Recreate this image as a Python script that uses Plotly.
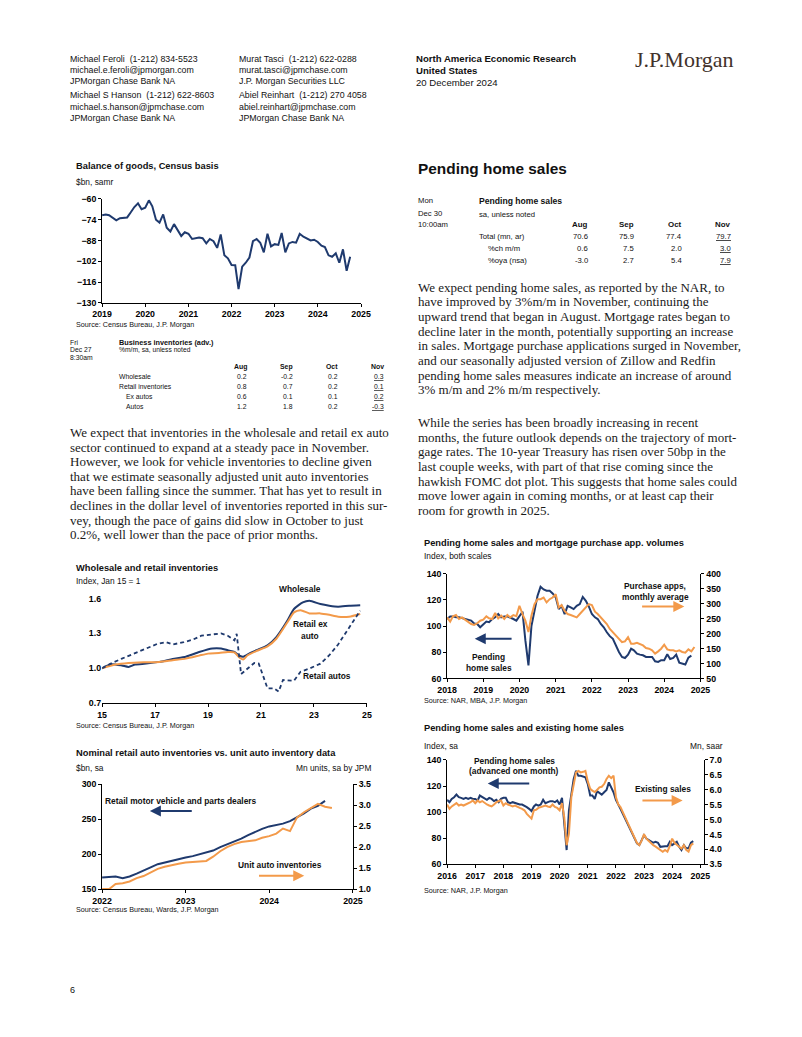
import plotly.graph_objects as go
import pandas as pd

PAGE_W, PAGE_H = 802, 1037
OFF = 8  # browser default body margin
W, H = PAGE_W - 2 * OFF, PAGE_H - 2 * OFF
NAVY = "#1f3a6e"
ORANGE = "#f39a4a"
FONT = "Liberation Sans, Arial, sans-serif"
SERIF = "Liberation Serif, Times New Roman, serif"

# ---------------- data ----------------
# Chart 1: Balance of goods, Census basis ($bn), Jan 2019 - Oct 2024
goods_dates = pd.date_range("2019-01-01", periods=70, freq="MS")
goods_balance = [
    -71, -70.5, -71, -72.5, -74.5, -73, -72.5, -72.5, -69, -65.5, -63, -67,
    -66, -61, -65, -74, -76, -70.5, -79.5, -82, -77, -80.5, -85, -82.5,
    -83.5, -87, -86.5, -86, -86.5, -90, -87, -88.5, -93, -84, -98, -100,
    -104.5, -104.7, -120.7, -105.6, -103, -99.5, -88.5, -87, -89.5, -96, -83.5, -92,
    -90.5, -91, -83, -96, -90, -89, -89.5, -83.5, -85.5, -87, -88, -87.5,
    -89, -91.5, -92.5, -98, -99, -96.7, -103, -94, -108.4, -99,
]

# Chart 2: Wholesale and retail inventories (Index, Jan 15 = 1)
wholesale_dates = ["2015-01", "2015-05", "2015-10", "2016-01", "2016-04", "2016-09", "2017-03",
                   "2017-09", "2018-03", "2018-09", "2019-03", "2019-07", "2019-10", "2020-01",
                   "2020-03", "2020-05", "2020-08", "2020-11", "2021-04", "2021-08", "2022-01",
                   "2022-04", "2022-08", "2022-11", "2023-04", "2023-08", "2023-12", "2024-05",
                   "2024-10"]
wholesale = [1.00, 1.035, 1.024, 1.012, 1.032, 1.04, 1.055, 1.08, 1.10, 1.14, 1.17, 1.17, 1.155,
             1.14, 1.11, 1.10, 1.13, 1.155, 1.197, 1.268, 1.41, 1.51, 1.566, 1.58, 1.552, 1.538,
             1.53, 1.538, 1.543]
retail_ex_dates = ["2015-01", "2015-07", "2016-01", "2016-08", "2017-03", "2017-09", "2018-03",
                   "2018-09", "2019-01", "2019-06", "2019-10", "2020-01", "2020-03", "2020-05",
                   "2020-07", "2020-11", "2021-04", "2021-08", "2022-01", "2022-04", "2022-07",
                   "2022-11", "2023-04", "2023-08", "2023-12", "2024-05", "2024-10"]
retail_ex_auto = [1.0, 1.032, 1.046, 1.052, 1.055, 1.07, 1.083, 1.109, 1.126, 1.131, 1.14, 1.137,
                  1.097, 1.075, 1.112, 1.149, 1.188, 1.254, 1.396, 1.48, 1.50, 1.472, 1.472, 1.46,
                  1.444, 1.444, 1.467]
retail_auto_dates = ["2015-01", "2015-05", "2015-10", "2016-04", "2016-09", "2017-02", "2017-06",
                     "2017-09", "2018-02", "2018-06", "2018-10", "2019-03", "2019-07", "2019-10",
                     "2020-01", "2020-02", "2020-03", "2020-04", "2020-07", "2020-10", "2020-12",
                     "2021-03", "2021-04", "2021-07", "2021-09", "2021-11", "2022-02", "2022-04",
                     "2022-07", "2022-11", "2023-04", "2023-08", "2023-12", "2024-03", "2024-05",
                     "2024-08", "2024-10"]
retail_autos = [1.0, 1.04, 1.083, 1.13, 1.168, 1.21, 1.225, 1.205, 1.225, 1.245, 1.28, 1.288, 1.30,
                1.28, 1.24, 1.296, 1.097, 0.95, 0.998, 1.046, 1.04, 0.884, 0.828, 0.828, 0.80,
                0.899, 0.899, 0.893, 0.97, 0.998, 1.04, 1.112, 1.205, 1.296, 1.353, 1.438, 1.495]

# Chart 3: Nominal retail auto inventories ($bn) vs unit auto inventories (mn units)
dealer_dates = pd.date_range("2022-01-01", periods=33, freq="MS")
dealer_inv = [166.5, 167, 168, 165.5, 168, 172, 177, 181, 185.5, 188, 189.5, 192,
              195, 197, 199.5, 203, 205, 210, 214, 217, 222, 227, 232, 236,
              239.5, 241.5, 243.5, 247, 252, 258, 265, 269, 276]
unit_dates = pd.date_range("2022-01-01", periods=34, freq="MS")
unit_inv = [1.0, 1.0, 1.12, 1.14, 1.18, 1.26, 1.31, 1.40, 1.48, 1.53, 1.57, 1.60,
            1.63, 1.64, 1.65, 1.67, 1.77, 1.90, 2.00, 2.07, 2.12, 2.14, 2.16, 2.22,
            2.26, 2.32, 2.44, 2.38, 2.70, 2.83, 2.93, 3.03, 2.96, 2.93]

# Chart 4: Pending home sales (index) and purchase apps (index)
phs_dates = pd.date_range("2018-01-01", periods=82, freq="MS")
pending_sales = [
    105.4, 107.4, 107.4, 106.7, 106.7, 106, 105.4, 104.9, 104.2, 102, 101.6, 99.1,
    101.6, 103.4, 103, 105.4, 106.7, 109.2, 106.7, 107.4, 107.4, 106.7, 105.4, 104.2,
    108, 111, 89, 70, 100, 113, 123, 130, 128, 127, 127, 125,
    122, 113, 115.5, 109.2, 115.5, 114.3, 113, 115.5, 116.8, 122.3, 119.3, 115,
    109.2, 106.7, 105.4, 101.6, 99.1, 95.3, 92.3, 90.3, 84.7, 80.2, 76.4, 75.6,
    78.2, 82.7, 81.5, 78.9, 78.2, 77.7, 76.4, 76.4, 76.4, 73.1, 72.6, 73.9,
    73.9, 78.5, 74.8, 75.6, 78.2, 72, 71, 70.6, 75.9, 77.4,
]
apps_dates = pd.date_range("2018-01-01", periods=83, freq="MS")
purchase_apps = [
    254, 240, 257.6, 262, 248.7, 254, 246.5, 240, 232, 229, 234.4, 243,
    246.5, 257.6, 251, 248.7, 268.6, 251, 260, 248.7, 262, 254, 262, 258,
    293, 265, 243, 205, 260, 298, 315, 315, 320.5, 304, 315, 320.5,
    331.5, 287.4, 295, 276, 265.3, 262, 257.6, 254, 265.3, 276.3, 287.4, 298.4,
    295, 273, 265.3, 254, 243, 232, 215.6, 204.6, 193.6, 182.5, 171.5, 173.7,
    188, 166, 166, 169.3, 166, 160.4, 151.6, 149.4, 143.9, 133, 140.5, 149.4,
    162.6, 147.2, 144, 144, 140.5, 144, 138.5, 136.3, 147.2, 140.5, 155,
]

# Chart 5: Pending home sales (advanced one month, index) and existing sales (mn, saar)
hs_dates = pd.date_range("2016-01-01", periods=106, freq="MS")
pending_adv = [
    109.4, 107.6, 110.1, 111.4, 113.4, 111.4, 110.9, 110.1, 110.9, 110.1, 110.9, 110.1,
    110.1, 108.9, 112.7, 111.4, 110.1, 109.4, 110.9, 110.1, 108.4, 109.4, 107.6, 110.1,
    110.9, 110.9, 107.6, 106.8, 107.6, 106.8, 106.3, 105.8, 105.8, 105, 103.8, 102.5,
    100.8, 104.3, 105.8, 105, 105.8, 109.4, 106.8, 107.6, 108.4, 108.4, 107.6, 108.9,
    105.8, 110.9, 93.7, 70.9, 101.3, 115.2, 125.3, 131.6, 127.8, 127.8, 127.1, 126.6,
    121.5, 112.7, 112.7, 110.1, 116, 114.4, 113.4, 115.2, 117, 122.8, 119.5, 115.2,
    109.4, 106.3, 102.5, 98.7, 95, 91.2, 88.6, 84.8, 79.7, 76, 74.7, 78.5,
    82.3, 79.7, 78.5, 77.2, 76.5, 77.2, 76.5, 73.4, 73.9, 73.9, 73.9, 77.2,
    74.7, 75.9, 77.2, 73.4, 70.9, 74.7, 72.2, 72.2, 76.5, 77.7,
]
existing_sales = [
    5.505, 5.36, 5.44, 5.505, 5.55, 5.47, 5.505, 5.47, 5.505, 5.55, 5.58, 5.64,
    5.55, 5.64, 5.58, 5.62, 5.55, 5.505, 5.47, 5.44, 5.505, 5.58, 5.62, 5.64,
    5.47, 5.55, 5.505, 5.47, 5.44, 5.47, 5.42, 5.39, 5.36, 5.31, 5.19, 5.11,
    5.03, 5.31, 5.33, 5.39, 5.42, 5.44, 5.47, 5.44, 5.42, 5.505, 5.42, 5.39,
    5.31, 5.55, 5.08, 4.14, 4.53, 5.75, 6.19, 6.58, 6.63, 6.58, 6.60, 6.63,
    6.28, 6.03, 5.97, 5.92, 5.99, 6.08, 6.10, 6.19, 6.36, 6.47, 6.39, 6.47,
    5.75, 5.505, 5.42, 5.25, 5.08, 4.88, 4.75, 4.59, 4.40, 4.22, 4.14, 4.29,
    4.51, 4.36, 4.29, 4.20, 4.14, 4.09, 4.03, 3.98, 3.92, 3.98, 3.92, 4.11,
    4.36, 4.22, 4.14, 4.09, 4.03, 4.14, 3.98, 3.92, 4.14, 4.20,
]

# Tables
table_months = ["Aug", "Sep", "Oct", "Nov"]
biz_rows = ["Wholesale", "Retail inventories", "Ex autos", "Autos"]
biz_vals = [["0.2", "-0.2", "0.2", "0.3"],
            ["0.8", "0.7", "0.2", "0.1"],
            ["0.6", "0.1", "0.1", "0.2"],
            ["1.2", "1.8", "0.2", "-0.3"]]
phs_rows = ["Total (mn, ar)", "%ch m/m", "%oya (nsa)"]
phs_vals = [["70.6", "75.9", "77.4", "79.7"],
            ["0.6", "7.5", "2.0", "3.0"],
            ["-3.0", "2.7", "5.4", "7.9"]]

header_col1 = ["Michael Feroli  (1-212) 834-5523", "michael.e.feroli@jpmorgan.com", "JPMorgan Chase Bank NA",
               "Michael S Hanson  (1-212) 622-8603", "michael.s.hanson@jpmchase.com", "JPMorgan Chase Bank NA"]
header_col2 = ["Murat Tasci  (1-212) 622-0288", "murat.tasci@jpmchase.com", "J.P. Morgan Securities LLC",
               "Abiel Reinhart  (1-212) 270 4058", "abiel.reinhart@jpmchase.com", "JPMorgan Chase Bank NA"]

para_left = [
    "We expect that inventories in the wholesale and retail ex auto",
    "sector continued to expand at a steady pace in November.",
    "However, we look for vehicle inventories to decline given",
    "that we estimate seasonally adjusted unit auto inventories",
    "have been falling since the summer. That has yet to result in",
    "declines in the dollar level of inventories reported in this sur-",
    "vey, though the pace of gains did slow in October to just",
    "0.2%, well lower than the pace of prior months.",
]
para_right1 = [
    "We expect pending home sales, as reported by the NAR, to",
    "have improved by 3%m/m in November, continuing the",
    "upward trend that began in August. Mortgage rates began to",
    "decline later in the month, potentially supporting an increase",
    "in sales. Mortgage purchase applications surged in November,",
    "and our seasonally adjusted version of Zillow and Redfin",
    "pending home sales measures indicate an increase of around",
    "3% m/m and 2% m/m respectively.",
]
para_right2 = [
    "While the series has been broadly increasing in recent",
    "months, the future outlook depends on the trajectory of mort-",
    "gage rates. The 10-year Treasury has risen over 50bp in the",
    "last couple weeks, with part of that rise coming since the",
    "hawkish FOMC dot plot. This suggests that home sales could",
    "move lower again in coming months, or at least cap their",
    "room for growth in 2025.",
]

# ---------------- helpers ----------------
def fx(px):
    return (px - OFF) / W


def fy(py):
    return 1 - (py - OFF) / H


annotations = []


def txt(x, y, s, size, bold=False, anchor="left", color="#111", family=FONT):
    annotations.append(dict(x=fx(x), y=fy(y), xref="paper", yref="paper", text=s, showarrow=False,
                            xanchor=anchor, yanchor="middle", borderpad=0, borderwidth=0,
                            font=dict(size=size, family=family, color=color,
                                      weight="bold" if bold else "normal")))


def arrow(hx, hy, tx, ty, color):
    annotations.append(dict(x=fx(hx), y=fy(hy), xref="paper", yref="paper", text="",
                            showarrow=True, ax=tx - hx, ay=ty - hy, axref="pixel", ayref="pixel",
                            arrowhead=2, arrowsize=1.1, arrowwidth=2, arrowcolor=color))


TICKFONT = dict(size=8.8, family=FONT, color="black", weight="bold")
TITLE = 9.3
SUB = 8.4
SRC = 7.2
LBL = 8.4


def xaxis(x0, x1, anchor, rng, dtick="M12", fmt="%Y", tick0=None):
    d = dict(domain=[fx(x0), fx(x1)], anchor=anchor, type="date", range=rng, dtick=dtick,
             tickformat=fmt, showline=True, linecolor="black", linewidth=1, ticks="outside",
             ticklen=3, tickcolor="black", tickfont=TICKFONT, showgrid=False, zeroline=False)
    if tick0:
        d["tick0"] = tick0
    return d


def yaxis(y0, y1, anchor, rng, dtick, tick0, fmt=None, side="left", overlaying=None,
          showline=True, ticks="outside"):
    d = dict(domain=[fy(y1), fy(y0)], anchor=anchor, range=rng, dtick=dtick, tick0=tick0, side=side,
             showline=showline, linecolor="black", linewidth=1, ticks=ticks, ticklen=3,
             tickcolor="black", tickfont=TICKFONT, showgrid=False, zeroline=False)
    if fmt:
        d["tickformat"] = fmt
    if overlaying:
        d["overlaying"] = overlaying
    return d


fig = go.Figure()

# Chart 1
fig.add_trace(go.Scatter(x=goods_dates, y=goods_balance, mode="lines", line=dict(color=NAVY, width=2),
                         xaxis="x", yaxis="y"))
# Chart 2
fig.add_trace(go.Scatter(x=wholesale_dates, y=wholesale, mode="lines",
                         line=dict(color=NAVY, width=2, shape="spline", smoothing=0.6),
                         xaxis="x2", yaxis="y2"))
fig.add_trace(go.Scatter(x=retail_ex_dates, y=retail_ex_auto, mode="lines",
                         line=dict(color=ORANGE, width=2, shape="spline", smoothing=0.6),
                         xaxis="x2", yaxis="y2"))
fig.add_trace(go.Scatter(x=retail_auto_dates, y=retail_autos, mode="lines",
                         line=dict(color=NAVY, width=1.8, dash="4px,3px"), xaxis="x2", yaxis="y2"))
# Chart 3
fig.add_trace(go.Scatter(x=dealer_dates, y=dealer_inv, mode="lines", line=dict(color=NAVY, width=2),
                         xaxis="x3", yaxis="y3"))
fig.add_trace(go.Scatter(x=unit_dates, y=unit_inv, mode="lines", line=dict(color=ORANGE, width=2),
                         xaxis="x3", yaxis="y4"))
# Chart 4
fig.add_trace(go.Scatter(x=apps_dates, y=purchase_apps, mode="lines", line=dict(color=ORANGE, width=2),
                         xaxis="x4", yaxis="y6"))
fig.add_trace(go.Scatter(x=phs_dates, y=pending_sales, mode="lines", line=dict(color=NAVY, width=2),
                         xaxis="x4", yaxis="y5"))
# Chart 5
fig.add_trace(go.Scatter(x=hs_dates, y=existing_sales, mode="lines", line=dict(color=ORANGE, width=2),
                         xaxis="x5", yaxis="y8"))
fig.add_trace(go.Scatter(x=hs_dates, y=pending_adv, mode="lines", line=dict(color=NAVY, width=2),
                         xaxis="x5", yaxis="y7"))

layout = dict(
    width=W, height=H, margin=dict(l=0, r=0, t=0, b=0), autosize=False,
    paper_bgcolor="white", plot_bgcolor="white", showlegend=False,
    font=dict(family=FONT, color="black"),
    xaxis=xaxis(94.3, 360, "y", ["2019-01-01", "2025-01-01"]),
    yaxis=yaxis(195.7, 300.7, "x", [-130, -60], 14, -60),
    xaxis2=xaxis(94.3, 366, "y2", ["2015-01-01", "2025-01-01"], dtick="M24", fmt="%y", tick0="2015-01-01"),
    yaxis2=yaxis(599.3, 705, "x2", [0.7, 1.6], 0.3, 0.7, fmt=".1f", showline=False, ticks=""),
    xaxis3=xaxis(94.3, 351.7, "y3", ["2022-01-01", "2025-01-01"]),
    yaxis3=yaxis(786.7, 892.7, "x3", [150, 300], 50, 150),
    yaxis4=yaxis(786.7, 892.7, "x3", [1.0, 3.5], 0.5, 1.0, fmt=".1f", side="right", overlaying="y3"),
    xaxis4=xaxis(448.3, 708.3, "y5", ["2018-01-01", "2025-01-01"]),
    yaxis5=yaxis(574.3, 680, "x4", [60, 140], 20, 60),
    yaxis6=yaxis(574.3, 680, "x4", [50, 400], 50, 50, side="right", overlaying="y5"),
    xaxis5=xaxis(448.3, 711.7, "y7", ["2016-01-01", "2025-02-15"], tick0="2016-01-01"),
    yaxis7=yaxis(762.3, 867.7, "x5", [60, 140], 20, 60),
    yaxis8=yaxis(762.3, 867.7, "x5", [3.5, 7.0], 0.5, 3.5, fmt=".1f", side="right", overlaying="y7"),
)

# ---------------- page text ----------------
hdr_y = [54, 66, 77, 91, 103, 114]
for yy, s in zip(hdr_y, header_col1):
    txt(61, yy, s, 8.8)
for yy, s in zip(hdr_y, header_col2):
    txt(235, yy, s, 8.8)
txt(416, 54, "North America Economic Research", 9.6, bold=True)
txt(416, 66, "United States", 9.6, bold=True)
txt(416, 78, "20 December 2024", 9.6)
txt(691.5, 55, "J.P.Morgan", 22, anchor="center", color="#41322b", family=SERIF)

# Chart 1 text
txt(68, 163, "Balance of goods, Census basis", TITLE, bold=True)
txt(68, 179, "$bn, samr", SUB)
txt(68, 323, "Source: Census Bureau, J.P. Morgan", SRC)

# Table 1
TS1 = 6.8
txt(61, 340.5, "Fri", TS1)
txt(61, 348, "Dec 27", TS1)
txt(61, 355.5, "8:30am", TS1)
txt(112, 340.5, "Business inventories (adv.)", 7.3, bold=True)
txt(112, 348, "%m/m, sa, unless noted", 6.7)
col_r1 = [243.3, 290, 336.7, 383.3]
for xr, m in zip(col_r1, table_months):
    txt(xr, 365, m, 6.9, bold=True, anchor="right")
row_y1 = [375, 385, 395.5, 405]
row_x1 = [112, 112, 119, 119]
for i, (lab, yy, xx) in enumerate(zip(biz_rows, row_y1, row_x1)):
    txt(xx, yy, lab, TS1)
    for j, (xr, v) in enumerate(zip(col_r1, biz_vals[i])):
        txt(xr, yy, f"<u>{v}</u>" if j == 3 else v, TS1, anchor="right")

# Left paragraph
for i, s in enumerate(para_left):
    txt(61, 431.5 + i * 14.8, s, 13, family=SERIF, color="#1a1a1a")

# Chart 2 text
txt(68, 568, "Wholesale and retail inventories", TITLE, bold=True)
txt(68, 582, "Index, Jan 15 = 1", SUB)
txt(297, 589.3, "Wholesale", LBL, bold=True, anchor="center")
txt(308, 625, "Retail ex", LBL, bold=True, anchor="center")
txt(308, 637, "auto", LBL, bold=True, anchor="center")
txt(325, 678, "Retail autos", LBL, bold=True, anchor="center")
txt(68, 727.7, "Source: Census Bureau, J.P. Morgan", SRC)

# Chart 3 text
txt(68, 755, "Nominal retail auto inventories vs. unit auto inventory data", TITLE, bold=True)
txt(68, 770, "$bn, sa", SUB)
txt(370, 770, "Mn units, sa by JPM", SUB, anchor="right")
txt(175, 804, "Retail motor vehicle and parts dealers", LBL, bold=True, anchor="center")
arrow(143.3, 814, 186.7, 814, NAVY)
txt(277, 868.3, "Unit auto inventories", LBL, bold=True, anchor="center")
arrow(301.7, 879.3, 255, 879.3, ORANGE)
txt(68, 913.3, "Source: Census Bureau, Wards, J.P. Morgan", SRC)

# Right section heading & table
TS2 = 7.7
txt(418, 165, "Pending home sales", 15.4, bold=True)
txt(418, 197.5, "Mon", TS2)
txt(418, 210, "Dec 30", TS2)
txt(418, 221.7, "10:00am", TS2)
txt(481, 198, "Pending home sales", 8.6, bold=True)
txt(481, 211, "sa, unless noted", TS2)
col_r2 = [593, 640.5, 689.5, 739.3]
for xr, m in zip(col_r2, table_months):
    txt(xr, 221.7, m, 7.9, bold=True, anchor="right")
row_y2 = [233.3, 246, 257.7]
row_x2 = [481.5, 490, 490]
for i, (lab, yy, xx) in enumerate(zip(phs_rows, row_y2, row_x2)):
    txt(xx, yy, lab, TS2)
    for j, (xr, v) in enumerate(zip(col_r2, phs_vals[i])):
        txt(xr, yy, f"<u>{v}</u>" if j == 3 else v, TS2, anchor="right")

for i, s in enumerate(para_right1):
    txt(418, 285 + i * 14.8, s, 13, family=SERIF, color="#1a1a1a")
for i, s in enumerate(para_right2):
    txt(418, 421.5 + i * 14.8, s, 13, family=SERIF, color="#1a1a1a")

# Chart 4 text
txt(425, 543.3, "Pending home sales and mortgage purchase app. volumes", TITLE, bold=True)
txt(425, 556.7, "Index, both scales", SUB)
txt(662, 586.7, "Purchase apps,", LBL, bold=True, anchor="center")
txt(662, 597.5, "monthly average", LBL, bold=True, anchor="center")
arrow(691.7, 607.3, 648, 607.3, ORANGE)
arrow(476.7, 640, 515, 640, NAVY)
txt(491, 658.3, "Pending", LBL, bold=True, anchor="center")
txt(491, 669, "home sales", LBL, bold=True, anchor="center")
txt(425, 702.7, "Source: NAR, MBA, J.P. Morgan", SRC)

# Chart 5 text
txt(425, 730, "Pending home sales and existing home sales", TITLE, bold=True)
txt(425, 748, "Index, sa", SUB)
txt(731, 748, "Mn, saar", SUB, anchor="right")
txt(517, 763.3, "Pending home sales", LBL, bold=True, anchor="center")
txt(517, 774, "(advanced one month)", LBL, bold=True, anchor="center")
arrow(490, 786, 533, 786, NAVY)
txt(670, 791.7, "Existing sales", LBL, bold=True, anchor="center")
arrow(690, 803.3, 648.3, 803.3, ORANGE)
txt(425, 894, "Source: NAR, J.P. Morgan", SRC)

# Page number
txt(61, 995, "6", 9)

layout["annotations"] = annotations
fig.update_layout(**layout)

fig.write_html("out.html", config={"displayModeBar": False})
